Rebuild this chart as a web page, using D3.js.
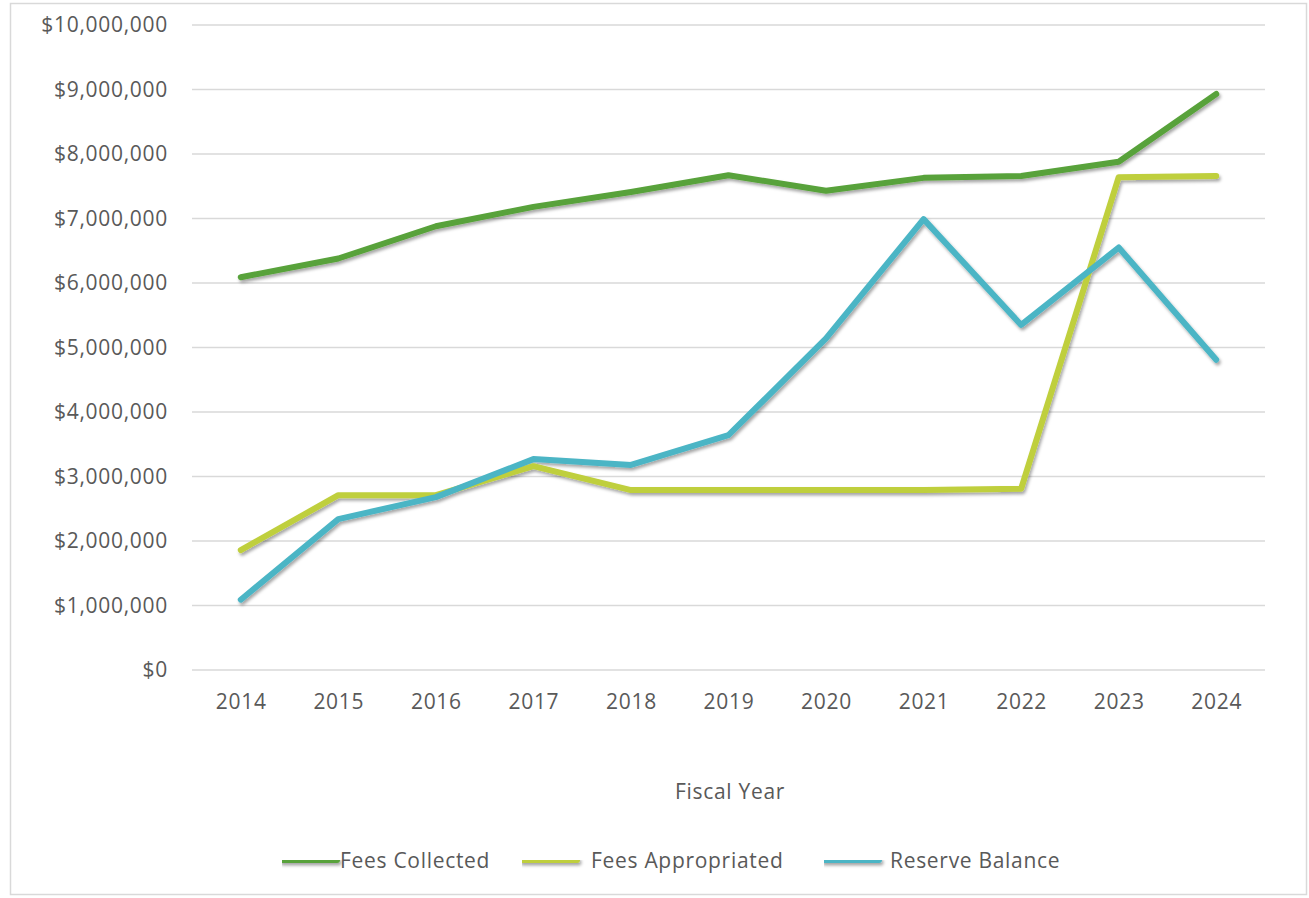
<!DOCTYPE html>
<html><head><meta charset="utf-8">
<script src="https://cdn.jsdelivr.net/npm/d3@7"></script>
<style>html,body{margin:0;padding:0;background:#fff;}svg{display:block;}</style>
</head><body>
<svg id="chart" width="1309" height="898"></svg>
<script>
const years = ["2014","2015","2016","2017","2018","2019","2020","2021","2022","2023","2024"];
const feesCollected    = [6.09,6.38,6.88,7.18,7.41,7.67,7.43,7.63,7.66,7.88,8.93].map(v=>v*1e6);
const feesAppropriated = [1.86,2.71,2.71,3.16,2.79,2.79,2.79,2.79,2.81,7.64,7.66].map(v=>v*1e6);
const reserveBalance   = [1.09,2.34,2.68,3.27,3.18,3.64,5.14,6.99,5.35,6.55,4.81].map(v=>v*1e6);
const yTicks = [0,1e6,2e6,3e6,4e6,5e6,6e6,7e6,8e6,9e6,10e6];
const seriesNames = ["Fees Collected","Fees Appropriated","Reserve Balance"];
const seriesColors = ["#58A23A","#BFCF3C","#4BB5C5"];
const seriesData = [feesCollected, feesAppropriated, reserveBalance];

const svg = d3.select("#chart");
const font = "'Open Sans', sans-serif";
const textColor = "#595959";
const fs = 21, ls = 0.7;

svg.append("rect").attr("x",10.5).attr("y",3.5).attr("width",1296).attr("height",891)
  .attr("fill","#fff").attr("stroke","#d9d9d9").attr("stroke-width",1.5);

const defs = svg.append("defs");
const f = defs.append("filter").attr("id","shadow").attr("filterUnits","userSpaceOnUse")
  .attr("x",0).attr("y",0).attr("width",1309).attr("height",898);
f.append("feDropShadow").attr("dx",1.5).attr("dy",2.5).attr("stdDeviation",1.5).attr("flood-color","#000").attr("flood-opacity",0.35);

const x = d3.scalePoint().domain(years).range([192,1265]).padding(0.5);
const y = d3.scaleLinear().domain([0,10e6]).range([670,25]);

// gridlines
svg.append("g").selectAll("line").data(yTicks).join("line")
  .attr("x1",192).attr("x2",1265)
  .attr("y1",d=>y(d)).attr("y2",d=>y(d))
  .attr("stroke","#d9d9d9").attr("stroke-width",1.5);

// y axis
const fmt = d3.format("$,.0f");
const yAxis = svg.append("g").attr("transform","translate(180,0)")
  .call(d3.axisLeft(y).tickValues(yTicks).tickFormat(fmt).tickSize(0).tickPadding(12));
yAxis.select(".domain").remove();
yAxis.selectAll("text").attr("font-family",font).attr("font-size",fs).attr("letter-spacing",ls).attr("fill",textColor);

// x axis
const xAxis = svg.append("g").attr("transform","translate(0,670)")
  .call(d3.axisBottom(x).tickSize(0).tickPadding(24));
xAxis.select(".domain").remove();
xAxis.selectAll("text").attr("font-family",font).attr("font-size",fs).attr("letter-spacing",ls).attr("fill",textColor);

svg.append("text").attr("x",730).attr("y",799).attr("text-anchor","middle")
  .attr("font-family",font).attr("font-size",fs).attr("letter-spacing",ls).attr("fill",textColor).text("Fiscal Year");

// lines
const line = d3.line().x((d,i)=>x(years[i])).y(d=>y(d));
svg.append("g").attr("filter","url(#shadow)").selectAll("path").data(seriesData).join("path")
  .attr("d",line).attr("fill","none")
  .attr("stroke",(d,i)=>seriesColors[i]).attr("stroke-width",6)
  .attr("stroke-linejoin","round").attr("stroke-linecap","round");

// legend
const legendX = [282,522,824];
const legendTextX = [58,69,66];
const lg = svg.append("g").selectAll("g").data(seriesNames).join("g")
  .attr("transform",(d,i)=>`translate(${legendX[i]},860)`);
lg.append("line").attr("x1",0).attr("x2",55).attr("y1",0).attr("y2",0)
  .attr("stroke",(d,i)=>seriesColors[i]).attr("stroke-width",6).attr("stroke-linecap","round")
  .attr("filter","url(#shadow)");
lg.append("text").attr("x",(d,i)=>legendTextX[i]).attr("y",7.5)
  .attr("font-family",font).attr("font-size",fs).attr("letter-spacing",ls).attr("fill",textColor).text(d=>d);
</script>
</body></html>
